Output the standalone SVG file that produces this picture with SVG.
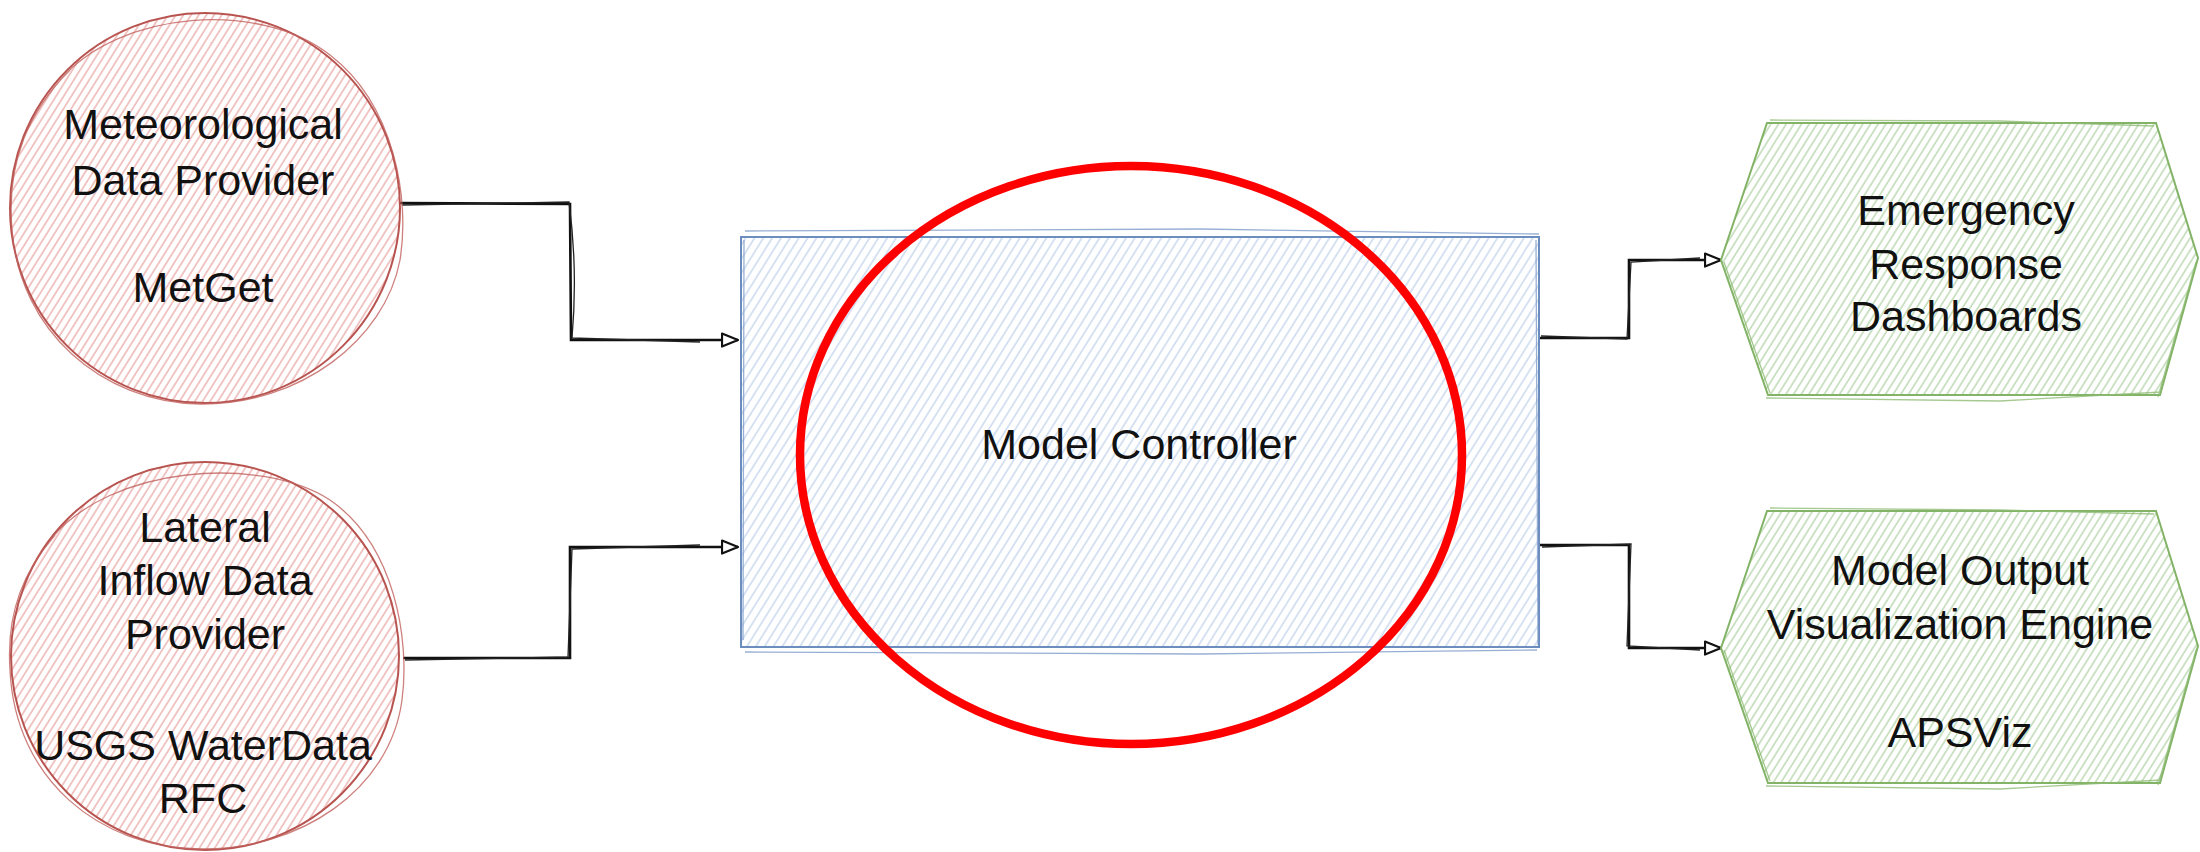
<svg xmlns="http://www.w3.org/2000/svg" width="2200" height="852" viewBox="0 0 2200 852">
  <defs>
    <pattern id="hatchRed" width="6.5" height="6.5" patternUnits="userSpaceOnUse" patternTransform="rotate(32)">
      <line x1="1" y1="0" x2="1" y2="6.5" stroke="#e9a9a7" stroke-width="1.3"/>
    </pattern>
    <pattern id="hatchBlue" width="7.5" height="7.5" patternUnits="userSpaceOnUse" patternTransform="rotate(32)">
      <line x1="1" y1="0" x2="1" y2="7.5" stroke="#c2d3ec" stroke-width="1.3"/>
    </pattern>
    <pattern id="hatchGreen" width="6.5" height="6.5" patternUnits="userSpaceOnUse" patternTransform="rotate(32)">
      <line x1="1" y1="0" x2="1" y2="6.5" stroke="#b3d3a8" stroke-width="1.3"/>
    </pattern>
    <marker id="arrow" viewBox="0 0 18 16" refX="17" refY="8" markerWidth="18" markerHeight="16" markerUnits="userSpaceOnUse" orient="auto">
      <path d="M1,1.5 L17,8 L1,14.5 Z" fill="#ffffff" stroke="#111111" stroke-width="2.2" stroke-linejoin="round"/>
    </marker>
  </defs>
  <style>
    .label { font-family: "Liberation Sans", Arial, sans-serif; font-size: 43px; fill: #111111; text-anchor: middle; }
    .red { fill: url(#hatchRed); stroke: #b85450; stroke-width: 2; }
    .redsk { fill: none; stroke: #c0605c; stroke-width: 1.3; opacity: 0.8; }
    .blue { fill: url(#hatchBlue); stroke: #6c8ebf; stroke-width: 2; }
    .bluesk { fill: none; stroke: #7d9bc9; stroke-width: 1.3; opacity: 0.8; }
    .green { fill: url(#hatchGreen); stroke: #82b366; stroke-width: 2; }
    .greensk { fill: none; stroke: #8fbc74; stroke-width: 1.3; opacity: 0.8; }
    .conn { fill: none; stroke: #111111; stroke-width: 2.6; stroke-linejoin: miter; }
    .connsk { fill: none; stroke: #222222; stroke-width: 1.3; }
  </style>
  <rect width="2200" height="852" fill="#ffffff"/>

  <g id="connectors">
    <path class="conn" d="M400,203 L570,204 L571,340 L738,340" marker-end="url(#arrow)"/>
    <path class="connsk" d="M402,205 L569,202 Q578,270 572,338 L700,342"/>
    <path class="conn" d="M403,658 L570,658 L570,547 L738,547" marker-end="url(#arrow)"/>
    <path class="connsk" d="M405,660 L568,657 L572,549 L700,545"/>
    <path class="conn" d="M1540,338 L1629,338 L1629,260 L1721,260" marker-end="url(#arrow)"/>
    <path class="connsk" d="M1541,336 L1627,339 L1631,262 L1700,258"/>
    <path class="conn" d="M1540,545 L1629,545 L1629,648 L1721,648" marker-end="url(#arrow)"/>
    <path class="connsk" d="M1542,547 L1631,544 L1627,646 L1700,650"/>
  </g>

  <g id="node-meteorological">
    <circle class="red" cx="205" cy="208" r="195"/>
    <path class="redsk" d="M60,80 C120,10 260,0 330,55 C395,105 410,200 400,260 C385,340 300,405 200,404 C100,402 20,330 12,230 C6,160 30,110 70,70"/>
    <text class="label" x="203" y="139">Meteorological</text>
    <text class="label" x="203" y="195">Data Provider</text>
    <text class="label" x="203" y="302">MetGet</text>
  </g>

  <g id="node-lateral">
    <circle class="red" cx="205" cy="656" r="194"/>
    <path class="redsk" d="M50,540 C110,465 260,455 330,500 C395,545 410,640 402,700 C390,790 300,850 200,849 C100,848 15,780 10,670 C6,610 25,570 55,535"/>
    <text class="label" x="205" y="542">Lateral</text>
    <text class="label" x="205" y="595">Inflow Data</text>
    <text class="label" x="205" y="649">Provider</text>
    <text class="label" x="203" y="760">USGS WaterData</text>
    <text class="label" x="203" y="813">RFC</text>
  </g>

  <g id="node-model-controller">
    <rect class="blue" x="741" y="237" width="798" height="410"/>
    <path class="bluesk" d="M745,231 L1200,229 L1539,234 M745,652 L1200,654 L1537,650 M744,240 L743,640 M1536,240 L1538,645"/>
    <text class="label" x="1139" y="459">Model Controller</text>
  </g>

  <g id="node-dashboards">
    <polygon class="green" points="1721,260 1767,123 2156,123 2198,258 2160,395 1768,395"/>
    <path class="greensk" d="M1770,120 L2000,121 L2154,126 M1766,398 L2000,401 L2162,392 M1724,262 L1770,393 M2196,262 L2158,397"/>
    <text class="label" x="1966" y="225">Emergency</text>
    <text class="label" x="1966" y="279">Response</text>
    <text class="label" x="1966" y="331">Dashboards</text>
  </g>

  <g id="node-visualization">
    <polygon class="green" points="1721,648 1767,511 2156,511 2198,646 2160,783 1768,783"/>
    <path class="greensk" d="M1770,508 L2000,510 L2154,514 M1766,786 L2000,789 L2162,780 M1724,650 L1770,781 M2196,650 L2158,785"/>
    <text class="label" x="1960" y="585">Model Output</text>
    <text class="label" x="1960" y="639">Visualization Engine</text>
    <text class="label" x="1960" y="747">APSViz</text>
  </g>

  <g id="highlight">
    <ellipse cx="1131" cy="455" rx="331" ry="289" fill="none" stroke="#ff0000" stroke-width="8.5"/>
  </g>
</svg>
